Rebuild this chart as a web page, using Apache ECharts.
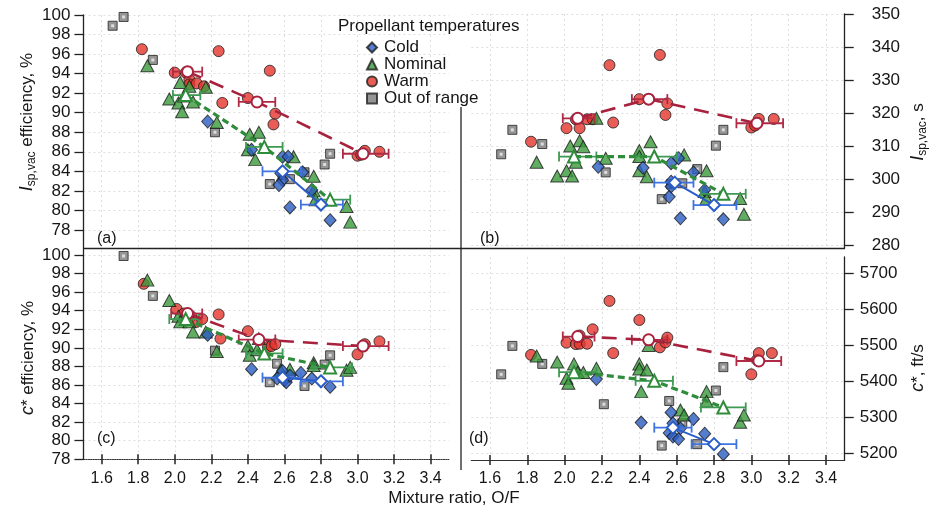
<!DOCTYPE html>
<html><head><meta charset="utf-8">
<script src="https://cdn.jsdelivr.net/npm/echarts@6/dist/echarts.min.js"></script>
<style>html,body{margin:0;padding:0;background:#fff}#c{width:929px;height:511px}</style>
</head><body><div id="c"></div>
<script>
// ---------- tick labels ----------
const xTickVals = [1.6,1.8,2.0,2.2,2.4,2.6,2.8,3.0,3.2,3.4];
const effTicks = [78,80,82,84,86,88,90,92,94,96,98,100];
const ispTicks = [280,290,300,310,320,330,340,350];
const cstarTicks = [5200,5300,5400,5500,5600,5700];
const groupNames = ['Cold','Nominal','Warm','Out of range'];

// ---------- panel (a): Isp,vac efficiency, % ----------
const aOut = [[1.66,98.9],[1.72,99.8],[1.88,95.4],[2.22,88.0],[2.52,82.7],[2.59,83.6],[2.63,83.2],[2.71,83.9],[2.82,84.7],[2.85,85.8]];
const aWarm = [[1.82,96.5],[2.24,96.3],[2.52,94.3],[2.00,94.1],[2.06,94.1],[2.08,93.4],[2.08,92.9],[2.12,93.0],[2.16,92.7],[2.26,91.0],[2.40,91.5],[2.55,89.9],[2.54,88.8],[3.00,85.6],[3.02,85.7],[3.04,86.1],[3.12,86.0]];
const aNom = [[1.85,94.8],[1.97,91.4],[2.02,91.0],[2.03,93.1],[2.04,90.1],[2.05,91.7],[2.10,91.1],[2.08,92.7],[2.17,92.6],[2.23,89.0],[2.41,87.8],[2.46,88.0],[2.40,86.2],[2.44,85.2],[2.65,85.5],[2.76,83.5],[2.76,82.0],[2.77,81.1],[2.94,80.4],[2.96,78.8]];
const aCold = [[2.18,89.1],[2.42,86.2],[2.59,85.5],[2.62,85.5],[2.58,83.8],[2.59,83.1],[2.57,82.6],[2.70,83.9],[2.75,82.1],[2.63,80.3],[2.85,79.0]];
const aWarmMean = [[2.07,94.2,1.99,2.15],[2.45,91.1,2.35,2.55],[3.03,85.8,2.92,3.17]];
const aNomMean = [[2.06,91.8,1.99,2.14],[2.49,86.5,2.39,2.59],[2.85,81.1,2.77,2.96]];
const aColdMean = [[2.59,84.0,2.48,2.69],[2.80,80.6,2.69,2.92]];

// ---------- panel (b): Isp,vac, s ----------
const bOut = [[1.66,307.5],[1.72,314.9],[1.88,310.6],[2.22,302.0],[2.52,293.9],[2.57,298.4],[2.63,298.7],[2.71,303.0],[2.81,310.1],[2.85,314.9]];
const bWarm = [[1.82,311.3],[2.01,315.4],[2.06,318.1],[2.08,315.4],[2.12,318.1],[2.15,318.1],[2.24,334.5],[2.26,317.1],[2.40,324.2],[2.51,337.6],[2.55,322.9],[2.54,319.4],[3.00,315.6],[3.02,316.2],[3.04,318.2],[3.12,318.2]];
const bNom = [[1.85,305.1],[1.96,300.9],[2.01,302.5],[2.03,310.0],[2.04,300.9],[2.06,305.1],[2.08,311.6],[2.10,309.8],[2.17,318.4],[2.22,306.3],[2.40,308.6],[2.40,306.8],[2.40,302.5],[2.44,300.7],[2.46,311.3],[2.64,307.3],[2.76,302.5],[2.75,296.2],[2.76,294.1],[2.94,294.1],[2.96,289.3]];
const bCold = [[2.18,303.7],[2.42,303.4],[2.57,304.8],[2.61,306.3],[2.57,299.2],[2.57,297.7],[2.56,294.6],[2.69,302.0],[2.75,296.7],[2.62,288.1],[2.85,287.8]];
const bWarmMean = [[2.07,318.4,1.99,2.16],[2.45,324.2,2.36,2.55],[3.03,316.9,2.92,3.17]];
const bNomMean = [[2.05,306.8,1.97,2.17],[2.48,306.8,2.38,2.60],[2.85,295.5,2.73,2.97]];
const bColdMean = [[2.59,298.9,2.48,2.69],[2.80,292.1,2.69,2.92]];

// ---------- panel (c): c* efficiency, % ----------
const cOut = [[1.72,99.9],[1.88,95.6],[2.22,89.7],[2.52,86.3],[2.56,88.3],[2.71,85.9],[2.82,88.2],[2.85,89.2]];
const cWarm = [[1.83,96.9],[2.01,94.2],[2.05,93.7],[2.07,93.5],[2.09,93.4],[2.12,92.8],[2.15,93.1],[2.24,93.6],[2.25,91.0],[2.40,91.8],[2.51,90.1],[2.53,90.2],[2.55,90.4],[3.00,89.3],[3.03,90.2],[3.04,90.4],[3.12,90.7]];
const cNom = [[1.85,97.3],[1.97,95.1],[2.02,93.4],[2.03,92.8],[2.08,92.8],[2.10,91.7],[2.17,91.7],[2.23,89.6],[2.40,90.2],[2.41,89.2],[2.45,89.8],[2.46,91.0],[2.58,87.6],[2.63,87.7],[2.76,88.4],[2.76,88.1],[2.94,87.6],[2.96,87.9]];
const cCold = [[2.18,91.4],[2.42,87.7],[2.59,87.5],[2.56,86.7],[2.60,86.5],[2.61,86.3],[2.63,87.0],[2.69,87.3],[2.75,86.7],[2.85,85.8]];
const cWarmMean = [[2.07,93.7,1.98,2.15],[2.46,90.9,2.35,2.55],[3.03,90.2,2.92,3.17]];
const cNomMean = [[2.06,93.1,1.97,2.13],[2.49,89.4,2.39,2.59],[2.85,87.9,2.76,2.97]];
const cColdMean = [[2.59,86.8,2.48,2.69],[2.80,86.4,2.69,2.92]];

// ---------- panel (d): c*, ft/s ----------
const dOut = [[1.66,5419],[1.72,5498],[1.88,5448],[2.21,5336],[2.52,5221],[2.56,5345],[2.63,5283],[2.71,5225],[2.81,5374],[2.85,5439]];
const dWarm = [[1.82,5473],[2.01,5507],[2.06,5503],[2.08,5527],[2.08,5504],[2.12,5504],[2.15,5544],[2.24,5623],[2.26,5478],[2.40,5570],[2.51,5494],[2.54,5508],[2.55,5521],[3.00,5419],[3.03,5459],[3.04,5478],[3.11,5478]];
const dNom = [[1.85,5470],[1.96,5453],[2.01,5408],[2.02,5394],[2.05,5448],[2.07,5425],[2.10,5424],[2.17,5436],[2.45,5499],[2.40,5448],[2.40,5434],[2.44,5431],[2.41,5371],[2.76,5371],[2.76,5344],[2.62,5320],[2.64,5306],[2.94,5286],[2.96,5306]];
const dCold = [[2.17,5406],[2.41,5285],[2.57,5313],[2.58,5283],[2.56,5256],[2.58,5246],[2.61,5239],[2.62,5269],[2.69,5295],[2.75,5254],[2.85,5197]];
const dWarmMean = [[2.07,5524,1.99,2.16],[2.45,5515,2.36,2.55],[3.04,5456,2.92,3.16]];
const dNomMean = [[2.05,5425,1.97,2.17],[2.48,5401,2.38,2.58],[2.85,5327,2.73,2.97]];
const dColdMean = [[2.58,5271,2.48,2.68],[2.80,5225,2.68,2.92]];

const panels = [
  {out:aOut, warm:aWarm, nom:aNom, cold:aCold, wm:aWarmMean, nm:aNomMean, cm:aColdMean},
  {out:bOut, warm:bWarm, nom:bNom, cold:bCold, wm:bWarmMean, nm:bNomMean, cm:bColdMean},
  {out:cOut, warm:cWarm, nom:cNom, cold:cCold, wm:cWarmMean, nm:cNomMean, cm:cColdMean},
  {out:dOut, warm:dWarm, nom:dNom, cold:dCold, wm:dWarmMean, nm:dNomMean, cm:dColdMean}
];

const FONT = '"Liberation Sans", Arial, Helvetica, sans-serif';
const C = {
  cold:'#2a5cc0', nom:'#3a9a3c', warm:'#e3352c',
  warmLine:'#a8223e', nomLine:'#2f8c3a', coldLine:'#2b5dc8', coldErr:'#3f74e0', nomErr:'#3e9a52', warmErr:'#b02a46'
};

const chart = echarts.init(document.getElementById('c'), null, {renderer:'canvas'});

const grids = [
  {left:83.4, top:15, width:365.5, height:234.5},
  {left:471.3, top:14, width:373.4, height:234.3},
  {left:83.4, top:250.4, width:365.5, height:208.9},
  {left:471.3, top:257, width:373.4, height:203}
];

const splitLine = {show:true, lineStyle:{color:'#dedede', type:[2,3], width:1}};
const labelStyle = {fontFamily:FONT, fontSize:16, color:'#161616'};

function xAx(g, showLabels, lineType) {
  return {
    type:'value', gridIndex:g, min:1.5, max:3.5, position:'bottom',
    axisLine:{show:showLabels, onZero:false, lineStyle:{color:'#333', width:1.2, type:lineType||'solid'}},
    axisTick:{show:showLabels, length:5, customValues:xTickVals, lineStyle:{color:'#222', width:1.5}},
    axisLabel:{show:showLabels, margin:11, customValues:xTickVals, formatter:v=>v.toFixed(1), ...labelStyle},
    splitLine:{...splitLine, customValues:xTickVals}
  };
}
function xAxInner(g) {
  return {
    type:'value', gridIndex:g, min:1.5, max:3.5, position:'bottom',
    axisLine:{show:false, onZero:false},
    axisTick:{show:true, inside:true, length:5, customValues:xTickVals, lineStyle:{color:'#222', width:1.5}},
    axisLabel:{show:false}, splitLine:{show:false}
  };
}
function yAx(g, pos, min, max, ticks, margin) {
  return {
    type:'value', gridIndex:g, position:pos, min:min, max:max,
    axisLine:{show:true, onZero:false, lineStyle:{color:'#222', width:1.3}},
    axisTick:{show:true, length:9, customValues:ticks, lineStyle:{color:'#222', width:1.3}},
    axisLabel:{show:true, margin:margin, customValues:ticks, formatter:v=>String(v), ...labelStyle, fontSize:17},
    splitLine:{...splitLine, customValues:ticks}
  };
}

const xAxis = [xAx(0,false), xAx(1,false), xAx(2,true,'dotted'), xAx(3,true), xAxInner(2), xAxInner(3)];
const yAxis = [
  yAx(0,'left',76,100,effTicks,13),
  yAx(1,'right',279,350,ispTicks,27),
  yAx(2,'left',78,100.5,effTicks,13),
  yAx(3,'right',5181,5745,cstarTicks,15)
];

function errSeries(g, data, color) {
  return {
    type:'custom', xAxisIndex:g, yAxisIndex:g, data:data, z:4, silent:true,
    renderItem:function(params, api){
      const y = api.value(1);
      const p1 = api.coord([api.value(2), y]);
      const p2 = api.coord([api.value(3), y]);
      const st = {stroke:color, lineWidth:1.8};
      return {type:'group', children:[
        {type:'line', shape:{x1:p1[0],y1:p1[1],x2:p2[0],y2:p2[1]}, style:st},
        {type:'line', shape:{x1:p1[0],y1:p1[1]-5,x2:p1[0],y2:p1[1]+5}, style:st},
        {type:'line', shape:{x1:p2[0],y1:p2[1]-5,x2:p2[0],y2:p2[1]+5}, style:st}
      ]};
    }
  };
}
function meanLine(g, data, color, dash, width, sym, symSize) {
  return {
    type:'line', xAxisIndex:g, yAxisIndex:g, data:data.map(d=>[d[0],d[1]]), z:5,
    symbol:sym, symbolSize:symSize, showSymbol:true,
    lineStyle:{color:color, width:width, type:dash},
    itemStyle:{color:color, borderColor:color, borderWidth:1.6},
    silent:true, legendHoverLink:false
  };
}
const edge = {borderColor:'#1b1b1b', borderWidth:1};

const series = [];
panels.forEach((p, g) => {
  series.push({name:'Out of range', type:'scatter', xAxisIndex:g, yAxisIndex:g, data:p.out, symbol:'rect', symbolSize:9,
    itemStyle:{color:'#7a7a7a', borderColor:'#222', borderWidth:1}, z:2});
  series.push({name:'Out of range', type:'scatter', xAxisIndex:g, yAxisIndex:g, data:p.out, symbol:'rect', symbolSize:3,
    itemStyle:{color:'#eee'}, z:2, silent:true});
  series.push({name:'Warm', type:'scatter', xAxisIndex:g, yAxisIndex:g, data:p.warm, symbol:'circle', symbolSize:11,
    itemStyle:{color:C.warm, ...edge}, z:3});
  series.push({name:'Nominal', type:'scatter', xAxisIndex:g, yAxisIndex:g, data:p.nom, symbol:'triangle', symbolSize:[13,12],
    itemStyle:{color:C.nom, ...edge}, z:3});
  series.push({name:'Cold', type:'scatter', xAxisIndex:g, yAxisIndex:g, data:p.cold, symbol:'diamond', symbolSize:[12,13],
    itemStyle:{color:C.cold, ...edge}, z:3});
  series.push(errSeries(g, p.wm, C.warmErr));
  series.push(errSeries(g, p.nm, C.nomErr));
  series.push(errSeries(g, p.cm, C.coldErr));
  series.push(meanLine(g, p.wm, C.warmLine, [15,9], 2.6, 'emptyCircle', 11));
  series.push(meanLine(g, p.nm, C.nomLine, [7,4], 3.2, 'emptyTriangle', 12));
  series.push(meanLine(g, p.cm, C.coldLine, 'solid', 2, 'emptyDiamond', 12));
});

function vText(x, y, txt, rich) {
  return {type:'text', x:x, y:y, rotation:Math.PI/2, z:10,
    style:{text:txt, align:'center', verticalAlign:'middle', fill:'#161616', font:'17px '+FONT, rich:rich}};
}
const richName = {
  i:{fontFamily:FONT, fontSize:18, fontStyle:'italic', lineHeight:22, verticalAlign:'middle', fill:'#161616'},
  s:{fontFamily:FONT, fontSize:12, lineHeight:22, verticalAlign:'bottom', fill:'#161616', padding:[6,0,0,0]},
  n:{fontFamily:FONT, fontSize:17, lineHeight:22, verticalAlign:'middle', fill:'#161616'}
};

const option = {
  backgroundColor:'#fff',
  animation:false,
  grid:grids,
  xAxis:xAxis,
  yAxis:yAxis,
  title:{text:'Propellant temperatures', left:333, top:13, textStyle:{fontFamily:FONT, fontSize:17, fontWeight:'normal', color:'#161616'}},
  legend:{
    data:[
      {name:'Cold', icon:'diamond'},
      {name:'Nominal', icon:'triangle'},
      {name:'Warm', icon:'circle'},
      {name:'Out of range', icon:'rect'}
    ],
    orient:'vertical', left:361, top:34, itemWidth:10, itemHeight:10, itemGap:0,
    textStyle:{fontFamily:FONT, fontSize:17, color:'#161616', lineHeight:17, padding:[0,0,0,2]},
    selectedMode:false
  },
  graphic:[
    {type:'line', shape:{x1:83, y1:248.5, x2:845, y2:248.5}, style:{stroke:'#222', lineWidth:1.3}, z:10},
    {type:'line', shape:{x1:461, y1:107, x2:461, y2:470}, style:{stroke:'#222', lineWidth:1.3}, z:10},
    {type:'text', x:97, y:231, style:{text:'(a)', font:'16px '+FONT, fill:'#161616'}, z:10},
    {type:'text', x:480, y:231, style:{text:'(b)', font:'16px '+FONT, fill:'#161616'}, z:10},
    {type:'text', x:97, y:431, style:{text:'(c)', font:'16px '+FONT, fill:'#161616'}, z:10},
    {type:'text', x:469, y:431, style:{text:'(d)', font:'16px '+FONT, fill:'#161616'}, z:10},
    {type:'text', x:454, y:490, style:{text:'Mixture ratio, O/F', align:'center', font:'17px '+FONT, fill:'#161616'}, z:10},
    vText(27, 122, '{i|I}{s|sp,vac}{n| efficiency, %}', richName),
    vText(28, 358, '{i|c}{n|* efficiency, %}', richName),
    vText(918, 132, '{i|I}{s|sp,vac}{n|, s}', richName),
    vText(918, 368, '{i|c}{n|*, ft/s}', richName)
  ],
  series:series
};
chart.setOption(option);
</script></body></html>
